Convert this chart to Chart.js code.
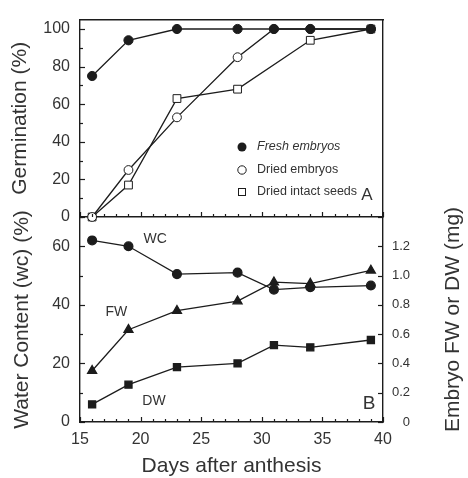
<!DOCTYPE html>
<html><head><meta charset="utf-8">
<script src="https://cdn.jsdelivr.net/npm/chart.js@4/dist/chart.umd.min.js"></script>
<style>
html,body{margin:0;padding:0;background:#fff;}
#wrap{position:relative;width:468px;height:478px;overflow:hidden;}
.c{position:absolute;left:0;top:0;width:468px;height:478px;}
</style></head><body>
<div id="wrap">
<div class="c"><canvas id="ca" width="468" height="478"></canvas></div>
<div class="c"><canvas id="cb" width="468" height="478"></canvas></div>
</div>
<script>
// ---------- data ----------
const days = [16, 19, 23, 28, 31, 34, 39];
const freshEmbryos = [75, 94, 100, 100, 100, 100, 100];
const driedEmbryos = [0, 25, 53, 85, 100, 100, 100];
const seedDays = [16, 19, 23, 28, 34, 39];
const driedSeeds = [0, 17, 63, 68, 94, 100];
const waterContent = [62, 60, 50.5, 51, 45.2, 46, 46.6];
const freshWeight = [0.35, 0.63, 0.76, 0.825, 0.955, 0.945, 1.035];
const dryWeight = [0.12, 0.255, 0.375, 0.40, 0.525, 0.51, 0.56];
const xTickLabels = [15, 20, 25, 30, 35, 40];
const germTickLabels = [0, 20, 40, 60, 80, 100];
const wcTickLabels = [0, 20, 40, 60];
const mgTickLabels = [0, 0.2, 0.4, 0.6, 0.8, 1.0, 1.2];
const legendLabels = ['Fresh embryos', 'Dried embryos', 'Dried intact seeds'];
const seriesNamesB = ['WC', 'FW', 'DW'];
const seriesNameAnchors = [[21.2, 62.3], [18.0, 37.4], [21.1, 7.1]]; // (day, water content %)

// ---------- styles ----------
const INK = '#1c1c1c';
const TXT = '#333333';
const FAM = '"Liberation Sans", Arial, Helvetica, sans-serif';
const W = 468, H = 478;
const PLOT_L = 80, PLOT_R = 383, A_TOP = 12, MID = 217, B_BOT = 422, RLABEL_R = 410;

function pts(xs, ys) { return xs.map((x, i) => ({x: x, y: ys[i]})); }
function fixW(w) { return s => { s.width = w; }; }
function fixH(h) { return s => { s.height = h; }; }
function setTicks(vals) { return s => { s.ticks = vals.map(v => ({value: v})); }; }

const tickMarks = {
  id: 'tickMarks',
  afterDraw(chart, args, opts) {
    const ctx = chart.ctx;
    ctx.save();
    ctx.strokeStyle = INK;
    ctx.lineWidth = 1.2;
    for (const sp of opts.specs || []) {
      const s = chart.scales[sp.axis];
      const n = Math.round((sp.max - sp.min) / sp.step);
      for (let i = 0; i <= n; i++) {
        const v = sp.min + i * sp.step;
        const isMajor = (i % sp.every) === 0;
        const len = isMajor ? sp.majorLen : sp.minorLen;
        if (!len) continue;
        const p = Math.round(s.getPixelForValue(v)) + 0.5;
        ctx.beginPath();
        if (s.isHorizontal()) { ctx.moveTo(p, s.top); ctx.lineTo(p, s.top - len); }
        else if (s.position === 'left') { ctx.moveTo(s.right, p); ctx.lineTo(s.right + len, p); }
        else { ctx.moveTo(s.left, p); ctx.lineTo(s.left - len, p); }
        ctx.stroke();
      }
    }
    ctx.restore();
  }
};

const legendA = {
  id: 'legendA',
  afterDraw(chart) {
    const ctx = chart.ctx;
    ctx.save();
    const mx = 242, tx = 257, ys = [147, 170, 192];
    ctx.lineWidth = 1;
    ctx.strokeStyle = INK;
    ctx.fillStyle = INK;
    ctx.beginPath(); ctx.arc(mx, ys[0], 4.5, 0, Math.PI * 2); ctx.fill();
    ctx.fillStyle = '#fff';
    ctx.beginPath(); ctx.arc(mx, ys[1], 4.2, 0, Math.PI * 2); ctx.fill(); ctx.stroke();
    ctx.fillRect(mx - 4, ys[2] - 4, 8, 8); ctx.strokeRect(mx - 3.5, ys[2] - 3.5, 7, 7);
    ctx.fillStyle = TXT;
    ctx.textBaseline = 'middle';
    ctx.textAlign = 'left';
    legendLabels.forEach((t, i) => {
      ctx.font = (i === 0 ? 'italic ' : '') + '12.5px ' + FAM;
      ctx.fillText(t, tx, ys[i]);
    });
    ctx.font = '17px ' + FAM;
    ctx.textAlign = 'center';
    ctx.fillText('A', 367, 195);
    ctx.restore();
  }
};

const labelsB = {
  id: 'labelsB',
  afterDraw(chart) {
    const ctx = chart.ctx;
    const xs = chart.scales.x, ys = chart.scales.y;
    ctx.save();
    ctx.fillStyle = TXT;
    ctx.textBaseline = 'middle';
    ctx.textAlign = 'center';
    ctx.font = '14px ' + FAM;
    seriesNamesB.forEach((t, i) => {
      ctx.fillText(t, xs.getPixelForValue(seriesNameAnchors[i][0]), ys.getPixelForValue(seriesNameAnchors[i][1]));
    });
    ctx.font = '19px ' + FAM;
    ctx.fillText('B', 369, 404);
    // right axis title (reads bottom to top)
    const y2 = chart.scales.y2;
    ctx.translate(453, (y2.top + y2.bottom) / 2);
    ctx.rotate(-Math.PI / 2);
    ctx.font = '21px ' + FAM;
    ctx.fillText('Embryo FW or DW (mg)', 0, 0);
    ctx.restore();
  }
};

const tickFont = {family: FAM, size: 16};
const titleFont = {family: FAM, size: 21, lineHeight: 1.1};
const borderOpt = {display: true, color: INK, width: 1.4};
const noGrid = {display: false, drawTicks: false};

// ---------- panel A ----------
new Chart(document.getElementById('ca'), {
  type: 'line',
  data: {
    datasets: [
      {label: legendLabels[0], data: pts(days, freshEmbryos), borderColor: INK, backgroundColor: INK,
       pointStyle: 'circle', pointRadius: 4.6, pointBorderWidth: 1, borderWidth: 1.3},
      {label: legendLabels[1], data: pts(days, driedEmbryos), borderColor: INK, backgroundColor: '#fff',
       pointStyle: 'circle', pointRadius: 4.4, pointBorderWidth: 1, borderWidth: 1.3},
      {label: legendLabels[2], data: pts(seedDays, driedSeeds), borderColor: INK, backgroundColor: '#fff',
       pointStyle: 'rect', pointRadius: 5.5, pointBorderWidth: 1, borderWidth: 1.3}
    ]
  },
  options: {
    responsive: false, animation: false, devicePixelRatio: 1,
    layout: {padding: 0},
    elements: {line: {tension: 0, fill: false}},
    clip: false,
    plugins: {legend: {display: false}, tooltip: {enabled: false},
      tickMarks: {specs: [
        {axis: 'x', min: 15, max: 40, step: 1, every: 5, majorLen: 5, minorLen: 3},
        {axis: 'y', min: 0, max: 100, step: 10, every: 2, majorLen: 5, minorLen: 3}
      ]}},
    scales: {
      x: {type: 'linear', position: 'bottom', min: 15, max: 40, grid: noGrid, border: borderOpt,
          ticks: {display: false}, afterFit: fixH(H - MID)},
      xTop: {type: 'linear', position: 'top', min: 15, max: 40, grid: noGrid, border: borderOpt,
          ticks: {display: false}, afterFit: fixH(A_TOP)},
      y: {type: 'linear', position: 'left', min: 0, max: 105, grid: noGrid, border: borderOpt,
          afterBuildTicks: setTicks(germTickLabels),
          ticks: {font: tickFont, color: TXT, padding: 10},
          title: {display: true, text: 'Germination (%)', font: titleFont, color: TXT, padding: {top: 9, bottom: 0}},
          afterFit: fixW(PLOT_L)},
      y2: {type: 'linear', position: 'right', min: 0, max: 105, grid: noGrid, border: borderOpt,
          ticks: {display: false}, afterFit: fixW(W - PLOT_R)}
    }
  },
  plugins: [tickMarks, legendA]
});

// ---------- panel B ----------
new Chart(document.getElementById('cb'), {
  type: 'line',
  data: {
    datasets: [
      {label: 'WC', yAxisID: 'y', data: pts(days, waterContent), borderColor: INK, backgroundColor: INK,
       pointStyle: 'circle', pointRadius: 4.4, borderWidth: 1.3},
      {label: 'FW', yAxisID: 'y2', data: pts(days, freshWeight), borderColor: INK, backgroundColor: INK,
       pointStyle: 'triangle', pointRadius: 5.2, borderWidth: 1.3},
      {label: 'DW', yAxisID: 'y2', data: pts(days, dryWeight), borderColor: INK, backgroundColor: INK,
       pointStyle: 'rect', pointRadius: 5, borderWidth: 1.3}
    ]
  },
  options: {
    responsive: false, animation: false, devicePixelRatio: 1,
    layout: {padding: {top: MID, left: 0, right: W - RLABEL_R, bottom: 0}},
    elements: {line: {tension: 0, fill: false}},
    clip: false,
    plugins: {legend: {display: false}, tooltip: {enabled: false},
      tickMarks: {specs: [
        {axis: 'x', min: 15, max: 40, step: 1, every: 5, majorLen: 5, minorLen: 3},
        {axis: 'y', min: 0, max: 70, step: 10, every: 2, majorLen: 5, minorLen: 3},
        {axis: 'y2', min: 0, max: 1.4, step: 0.2, every: 1, majorLen: 5, minorLen: 0}
      ]}},
    scales: {
      x: {type: 'linear', position: 'bottom', min: 15, max: 40, grid: noGrid, border: borderOpt,
          afterBuildTicks: setTicks(xTickLabels),
          ticks: {font: tickFont, color: TXT, padding: 8, maxRotation: 0},
          title: {display: true, text: 'Days after anthesis', font: titleFont, color: TXT, padding: 0},
          afterFit: fixH(H - B_BOT)},
      y: {type: 'linear', position: 'left', min: 0, max: 70, grid: noGrid, border: borderOpt,
          afterBuildTicks: setTicks(wcTickLabels),
          ticks: {font: tickFont, color: TXT, padding: 10},
          title: {display: true, text: 'Water Content (wc) (%)', font: titleFont, color: TXT, padding: {top: 11, bottom: 0}},
          afterFit: fixW(PLOT_L)},
      y2: {type: 'linear', position: 'right', min: 0, max: 1.4, grid: noGrid, border: borderOpt,
          afterBuildTicks: setTicks(mgTickLabels),
          ticks: {font: {family: FAM, size: 13}, color: TXT, padding: 9, crossAlign: 'far',
                  callback: v => (v === 0 ? '0' : v.toFixed(1))},
          afterFit: fixW(RLABEL_R - PLOT_R)}
    }
  },
  plugins: [tickMarks, labelsB]
});
</script>
</body></html>
